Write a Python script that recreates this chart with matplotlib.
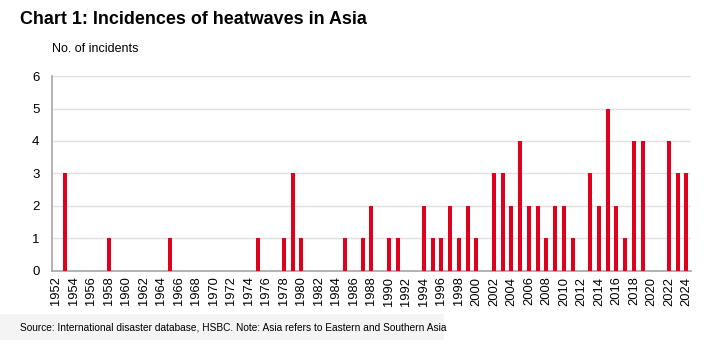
import matplotlib.pyplot as plt
import numpy as np

# --- Data -----------------------------------------------------------------
YEARS = list(range(1952, 2025))
EVENT_YEARS = [1953, 1958, 1965, 1975, 1978, 1979, 1980, 1985, 1987, 1988,
               1990, 1991, 1994, 1995, 1996, 1997, 1998, 1999, 2000, 2002,
               2003, 2004, 2005, 2006, 2007, 2008, 2009, 2010, 2011, 2013,
               2014, 2015, 2016, 2017, 2018, 2019, 2022, 2023, 2024]
EVENT_COUNTS = [3, 1, 1, 1, 1, 3, 1, 1, 1, 2,
                1, 1, 2, 1, 1, 2, 1, 2, 1, 3,
                3, 2, 4, 2, 2, 1, 2, 2, 1, 3,
                2, 5, 2, 1, 4, 4, 4, 3, 3]

counts = dict(zip(EVENT_YEARS, EVENT_COUNTS))
values = [counts.get(y, 0) for y in YEARS]

plt.rcParams['font.family'] = ['Liberation Sans', 'DejaVu Sans']

fig = plt.figure(figsize=(7.10, 3.56), dpi=100)
ax = fig.add_axes([0.0732, 0.2388, 0.8998, 0.5477])

x = np.arange(len(YEARS))
ax.bar(x, values, width=0.45, color='#e0001b', zorder=3)

ax.set_xlim(-0.5, len(YEARS) - 0.5)
ax.set_ylim(0, 6)
ax.set_yticks(range(0, 7))
ax.set_xticks(x[::2])
ax.set_xticklabels([str(y) for y in YEARS[::2]], rotation=90)
ax.tick_params(axis='y', length=0, pad=9, labelsize=9.5)
ax.tick_params(axis='x', length=0, pad=4, labelsize=9.3)
ax.yaxis.grid(True, color='#e0e0e0', linewidth=1, zorder=0)

for s in ['top', 'right']:
    ax.spines[s].set_visible(False)
for s in ['left', 'bottom']:
    ax.spines[s].set_color('#a6a6a6')
    ax.spines[s].set_linewidth(1.2)

fig.text(0.028, 0.945, 'Chart 1: Incidences of heatwaves in Asia',
         fontsize=12.9, fontweight='bold', va='center', ha='left')
fig.text(0.073, 0.862, 'No. of incidents', fontsize=9, va='center', ha='left')

fig.patches.append(plt.Rectangle((0.0, 0.045), 0.625, 0.072,
                                 transform=fig.transFigure,
                                 facecolor='#f4f4f4', edgecolor='none'))
fig.text(0.028, 0.079,
         'Source: International disaster database, HSBC. Note: Asia refers to Eastern and Southern Asia',
         fontsize=7.3, va='center', ha='left')

plt.savefig('out.png', dpi=100)
